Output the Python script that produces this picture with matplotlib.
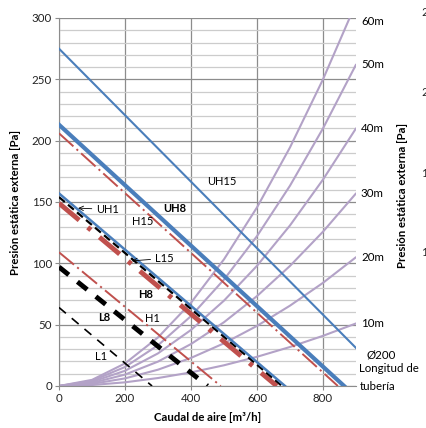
import matplotlib
matplotlib.use("Agg")
import matplotlib.pyplot as plt

plt.rcParams['font.family'] = ['Lato', 'DejaVu Sans']
plt.rcParams['lines.scale_dashes'] = False

# ---- data ----
# duct-length curves (pressure loss of the Ø200 duct), read every 100 m3/h
flow = [0, 100, 200, 300, 400, 500, 600, 700, 800, 900]
duct_len = ['10m', '20m', '30m', '40m', '50m', '60m']
duct_loss = [
    [0, 0.8, 3.0, 6.5, 11.1, 16.9, 23.8, 31.8, 40.9, 51],
    [0, 1.7, 6.2, 13.3, 22.9, 34.8, 49.0, 65.5, 84.1, 105],
    [0, 2.5, 9.3, 19.9, 34.2, 52.0, 73.3, 97.9, 125.8, 157],
    [0, 3.4, 12.4, 26.6, 45.7, 69.6, 98.0, 130.9, 168.3, 210],
    [0, 4.2, 15.5, 33.2, 57.0, 86.8, 122.2, 163.3, 210.0, 262],
    [0, 5.0, 18.4, 39.6, 67.9, 103.3, 145.6, 194.5, 250.0, 312],
]

# fan curves (straight lines) : flow at ends, pressure at ends
uh15_x, uh15_y = [0, 900], [275, 31]
uh8_x, uh8_y = [0, 864], [213, 0]
uh1_x, uh1_y = [0, 685], [157, 0]
h15_x, h15_y = [0, 845], [206, 0]
h8_x, h8_y = [0, 660], [149, 0]
h1_x, h1_y = [0, 490], [109, 0]
l15_x, l15_y = [0, 676], [154, 0]
l8_x, l8_y = [0, 450], [97, 0]
l1_x, l1_y = [0, 282], [64, 0]

blue = '#4a7ebb'
red = '#c0504d'
purple = '#b3a2c7'
grid_dark = '#8c8c8c'
grid_light = '#cccccc'

fig = plt.figure(figsize=(4.26, 4.28), dpi=100)
ax = fig.add_axes([59 / 426, 42 / 428, 297 / 426, 368 / 428])

# duct curves behind
for lab, ys in zip(duct_len, duct_loss):
    ax.plot(flow, ys, color=purple, lw=1.5, solid_capstyle='round', zorder=2)

ax.plot(h1_x, h1_y, color=red, lw=1.4, dashes=(14, 3, 1.5, 3), zorder=3)
ax.plot(h15_x, h15_y, color=red, lw=1.4, dashes=(14, 3, 1.5, 3), zorder=3)
ax.plot(h8_x, h8_y, color=red, lw=3.5, dashes=(19, 8, 3, 8), zorder=3)
ax.plot(l1_x, l1_y, color='black', lw=1.2, dashes=(6.5, 5.5), zorder=3)
ax.plot(l8_x, l8_y, color='black', lw=3.5, dashes=(9, 8), zorder=3)
ax.plot(l15_x, l15_y, color='black', lw=1.6, dashes=(5.5, 3), zorder=3)
ax.plot(uh1_x, uh1_y, color=blue, lw=1.8, zorder=4)
ax.plot(uh8_x, uh8_y, color=blue, lw=3.0, zorder=4)
ax.plot(uh15_x, uh15_y, color=blue, lw=1.5, zorder=4)

ax.set_xlim(0, 900)
ax.set_ylim(0, 300)
ax.set_xticks([0, 200, 400, 600, 800])
ax.set_yticks(range(0, 301, 50))
ax.set_yticks(range(0, 301, 10), minor=True)
ax.grid(which='minor', axis='y', color=grid_light, lw=0.9, zorder=0)
ax.grid(which='major', axis='both', color=grid_dark, lw=0.9, zorder=1)
ax.set_axisbelow(True)
for s in ['top', 'right']:
    ax.spines[s].set_visible(False)
for s in ['left', 'bottom']:
    ax.spines[s].set_color(grid_dark)
ax.tick_params(which='major', length=3, color=grid_dark, labelsize=8.3,
               labelcolor='#222222', pad=2)
ax.tick_params(which='minor', length=0)

ax.set_xlabel('Caudal de aire [m³/h]', fontsize=8.2, fontweight='bold', labelpad=6)
ax.set_ylabel('Presión estática externa [Pa]', fontsize=8.2, fontweight='bold', labelpad=8)

# labels inside
fs = 8
ax.text(450, 167, 'UH15', fontsize=fs, va='center')
ax.text(315, 145, 'UH8', fontsize=fs, va='center', fontweight='bold')
ax.text(221, 134, 'H15', fontsize=fs, va='center')
ax.text(239, 75, 'H8', fontsize=fs, va='center', fontweight='bold')
ax.text(118, 56, 'L8', fontsize=fs, va='center', fontweight='bold')
ax.text(261, 55, 'H1', fontsize=fs, va='center')
ax.text(109, 24, 'L1', fontsize=fs, va='center')
arrow = dict(arrowstyle='->', color='black', lw=0.6, shrinkA=1, shrinkB=0)
ax.annotate('UH1', xy=(58, 145), xytext=(112, 144), fontsize=fs, va='center',
            arrowprops=arrow, zorder=6)
ax.annotate('L15', xy=(221, 102), xytext=(290, 104), fontsize=fs, va='center',
            arrowprops=arrow, zorder=6)

# duct length labels outside the plot
for lab, ys in zip(duct_len, duct_loss):
    ax.text(915, min(ys[-1], 297), lab, fontsize=8.3, va='center', clip_on=False)
ax.text(932, 25, 'Ø200', fontsize=8.3, va='center', clip_on=False)
ax.text(908, 14, 'Longitud de', fontsize=8.3, va='center', clip_on=False)
ax.text(910, 0, 'tubería', fontsize=8.3, va='center', clip_on=False)

# neighbouring chart's axis, cut by the image edge
fig.text(403 / 426, 1 - 195 / 428, 'Presión estática externa [Pa]', rotation=90,
         fontsize=8.2, fontweight='bold', ha='center', va='center')
for py, t in zip([13, 93, 173, 253], ['250', '200', '150', '100']):
    fig.text(421 / 426, 1 - py / 428, t, fontsize=8.3, ha='left', va='center',
             color='#222222')

fig.savefig('out.png', dpi=100)
